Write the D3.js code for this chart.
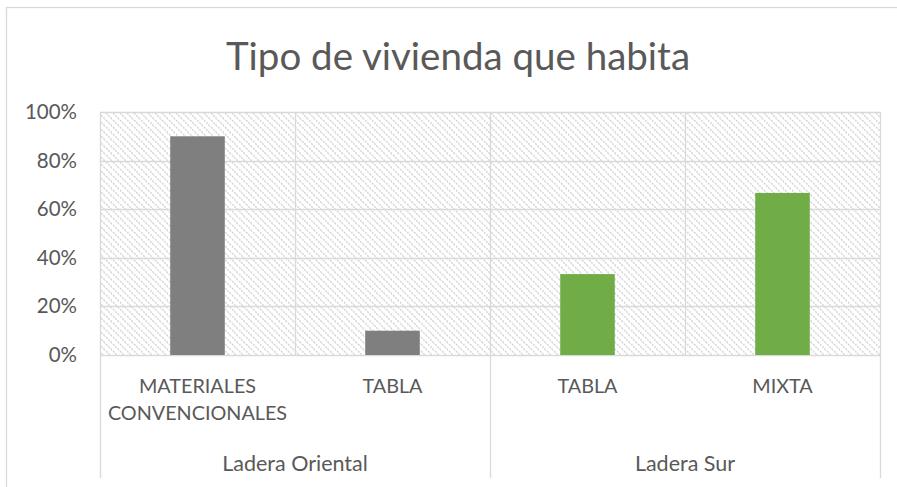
<!DOCTYPE html>
<html>
<head>
<meta charset="utf-8">
<script src="https://cdn.jsdelivr.net/npm/d3@7"></script>
<style>
  html, body { margin: 0; padding: 0; background: #fff; }
  svg { display: block; font-family: Lato, "Open Sans", sans-serif; }
</style>
</head>
<body>
<svg id="chart" width="897" height="487"></svg>
<script>
// Housing type by hillside zone
const groups = ["Ladera Oriental", "Ladera Sur"];
const categories = [
  ["MATERIALES", "CONVENCIONALES"],
  ["TABLA"],
  ["TABLA"],
  ["MIXTA"]
];
const categoryGroup = [0, 0, 1, 1];
const values = [0.90, 0.10, 0.333, 0.667];
const barColors = ["#7f7f7f", "#7f7f7f", "#70ad47", "#70ad47"];
const yTicks = [0, 0.2, 0.4, 0.6, 0.8, 1.0];
const title = "Tipo de vivienda que habita";

const svg = d3.select("#chart");
const W = 897, H = 487;
const plot = { left: 100, right: 880, top: 112, bottom: 355 };
const grid = "#d9d9d9";
const textColor = "#595959";

// Hatched plot background
const defs = svg.append("defs");
const pat = defs.append("pattern")
  .attr("id", "hatch")
  .attr("patternUnits", "userSpaceOnUse")
  .attr("width", 7).attr("height", 7);
pat.append("path")
  .attr("d", "M-1,-1 L8,8 M-8,-1 L1,8 M6,-1 L15,8")
  .attr("stroke", "#d6d6d6")
  .attr("stroke-width", 1.5)
  .attr("stroke-dasharray", "2,1");

// Chart border
svg.append("rect")
  .attr("x", 6.5).attr("y", 7.5)
  .attr("width", W).attr("height", H)
  .attr("fill", "none").attr("stroke", grid).attr("stroke-width", 1.3);

// Title
svg.append("text")
  .attr("x", 458).attr("y", 70)
  .attr("text-anchor", "middle")
  .attr("fill", textColor)
  .attr("font-size", 38.5)
  .text(title);

const idx = d3.range(categories.length);
const x = d3.scaleBand().domain(idx).range([plot.left, plot.right]).paddingInner(0).paddingOuter(0);
const y = d3.scaleLinear().domain([0, 1]).range([plot.bottom, plot.top]);

svg.append("rect")
  .attr("x", plot.left).attr("y", plot.top)
  .attr("width", plot.right - plot.left).attr("height", plot.bottom - plot.top)
  .attr("fill", "url(#hatch)");

// Horizontal gridlines
svg.append("g")
  .selectAll("line").data(yTicks).join("line")
  .attr("x1", plot.left).attr("x2", plot.right)
  .attr("y1", d => Math.round(y(d)) + 0.5).attr("y2", d => Math.round(y(d)) + 0.5)
  .attr("stroke", grid).attr("stroke-width", 1.3);

// Vertical category gridlines
const bounds = idx.map(i => x(i)).concat([plot.right]);
svg.append("g")
  .selectAll("line").data(bounds).join("line")
  .attr("x1", d => Math.round(d) + 0.5).attr("x2", d => Math.round(d) + 0.5)
  .attr("y1", plot.top)
  .attr("y2", (d, i) => {
    // Group boundaries extend through the label area
    const isGroupEdge = i === 0 || i === bounds.length - 1 || categoryGroup[i] !== categoryGroup[i - 1];
    return isGroupEdge ? 478 : plot.bottom;
  })
  .attr("stroke", grid).attr("stroke-width", 1.3);

// Bars
const barW = x.bandwidth() * 0.28;
svg.append("g")
  .selectAll("rect").data(values).join("rect")
  .attr("x", (d, i) => x(i) + x.bandwidth() / 2 - barW / 2)
  .attr("y", d => y(d))
  .attr("width", barW)
  .attr("height", d => plot.bottom - y(d))
  .attr("fill", (d, i) => barColors[i]);

// Y axis labels
const yAxis = d3.axisLeft(y).tickValues(yTicks).tickFormat(d3.format(".0%")).tickSize(0).tickPadding(23);
const gy = svg.append("g").attr("transform", `translate(${plot.left},0)`).call(yAxis);
gy.select(".domain").remove();
gy.selectAll("text").attr("fill", textColor).attr("font-size", 20.5).attr("font-family", "Lato, 'Open Sans', sans-serif");

// Category labels
const cat = svg.append("g");
categories.forEach((lines, i) => {
  const t = cat.append("text")
    .attr("x", x(i) + x.bandwidth() / 2)
    .attr("y", 393)
    .attr("text-anchor", "middle")
    .attr("fill", textColor)
    .attr("font-size", 19.8);
  lines.forEach((ln, k) => {
    t.append("tspan").attr("x", x(i) + x.bandwidth() / 2).attr("dy", k === 0 ? 0 : 27).text(ln);
  });
});

// Group labels
groups.forEach((g, gi) => {
  const members = idx.filter(i => categoryGroup[i] === gi);
  const x0 = x(members[0]);
  const x1 = x(members[members.length - 1]) + x.bandwidth();
  svg.append("text")
    .attr("x", (x0 + x1) / 2).attr("y", 471)
    .attr("text-anchor", "middle")
    .attr("fill", textColor)
    .attr("font-size", 21.5)
    .text(g);
});
</script>
</body>
</html>
